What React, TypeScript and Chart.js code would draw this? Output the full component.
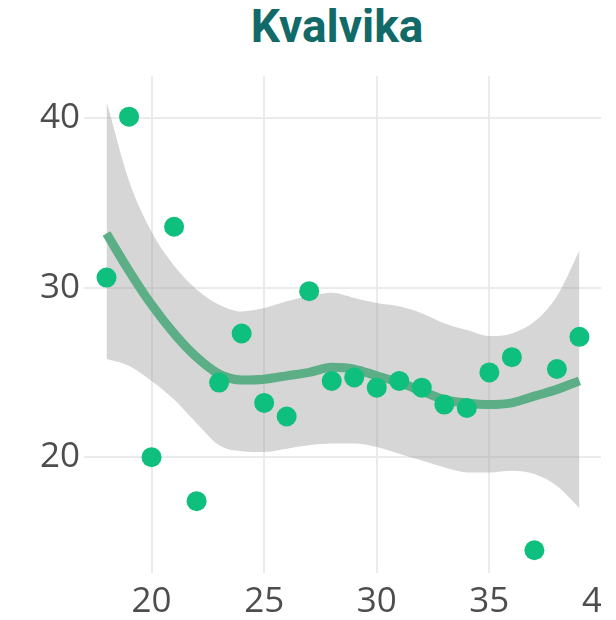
import { useEffect, useRef } from "react";
import { Chart, registerables } from "chart.js";

Chart.register(...registerables);

const TITLE = "Kvalvika";
const X_VALUES = [18, 19, 20, 21, 22, 23, 24, 25, 26, 27, 28, 29, 30, 31, 32, 33, 34, 35, 36, 37, 38, 39];
const POINT_Y = [30.6, 40.1, 20.0, 33.6, 17.4, 24.4, 27.3, 23.2, 22.4, 29.8, 24.5, 24.7, 24.1, 24.5, 24.1, 23.1, 22.9, 25.0, 25.9, 14.5, 25.2, 27.1];
const SMOOTH_Y = [33.2, 31.0, 29.0, 27.3, 25.9, 24.9, 24.55, 24.6, 24.8, 25.0, 25.3, 25.2, 24.8, 24.4, 23.9, 23.4, 23.2, 23.1, 23.2, 23.6, 24.0, 24.5];
const BAND_UPPER = [41.0, 36.3, 33.3, 31.3, 29.9, 29.0, 28.6, 28.8, 29.2, 29.5, 29.7, 29.4, 29.1, 28.9, 28.5, 27.9, 27.5, 27.15, 27.3, 28.0, 29.5, 32.2];
const BAND_LOWER = [25.8, 25.4, 24.5, 23.4, 22.0, 20.7, 20.35, 20.3, 20.5, 20.7, 20.8, 20.8, 20.6, 20.2, 19.8, 19.4, 19.1, 19.1, 19.2, 19.0, 18.3, 17.0];
const X_TICKS = [20, 25, 30, 35, 40];
const Y_TICKS = [20, 30, 40];

const toXY = (ys: number[]) => X_VALUES.map((x, i) => ({ x, y: ys[i] }));

export default function App() {
  const ref = useRef<HTMLCanvasElement>(null);

  useEffect(() => {
    const tickFont = { family: "'Open Sans'", size: 35 };
    const chart = new Chart(ref.current!, {
      type: "scatter",
      data: {
        datasets: [
          {
            type: "scatter",
            data: toXY(POINT_Y),
            backgroundColor: "#0fbf7d",
            borderWidth: 0,
            pointRadius: 10,
            order: 0,
          },
          {
            type: "line",
            data: toXY(SMOOTH_Y),
            borderColor: "#5bae86",
            borderWidth: 9,
            pointRadius: 0,
            cubicInterpolationMode: "monotone",
            fill: false,
            order: 1,
          },
          {
            type: "line",
            data: toXY(BAND_UPPER),
            borderWidth: 0,
            borderColor: "rgba(0,0,0,0)",
            pointRadius: 0,
            cubicInterpolationMode: "monotone",
            fill: "+1",
            backgroundColor: "rgba(153,153,153,0.4)",
            order: 2,
          },
          {
            type: "line",
            data: toXY(BAND_LOWER),
            borderWidth: 0,
            borderColor: "rgba(0,0,0,0)",
            pointRadius: 0,
            cubicInterpolationMode: "monotone",
            fill: false,
            order: 3,
          },
        ],
      } as any,
      options: {
        animation: false,
        responsive: false,
        layout: { padding: { top: 68, left: 0, right: 0, bottom: 0 } },
        plugins: {
          legend: { display: false },
          tooltip: { enabled: false },
        },
        scales: {
          x: {
            type: "linear",
            min: 17,
            max: 42,
            grid: { color: "#ebebeb", lineWidth: 2, drawTicks: false },
            border: { display: false },
            ticks: { font: tickFont, color: "#4d4d4d", padding: 8, maxRotation: 0 },
            afterBuildTicks: (s: any) => {
              s.ticks = X_TICKS.map((v) => ({ value: v }));
            },
            afterFit: (s: any) => {
              s.height = 47;
            },
          },
          y: {
            type: "linear",
            min: 13.16,
            max: 42.5,
            grid: { color: "#ebebeb", lineWidth: 2, drawTicks: false },
            border: { display: false },
            ticks: { font: tickFont, color: "#4d4d4d", padding: 4 },
            afterBuildTicks: (s: any) => {
              s.ticks = Y_TICKS.map((v) => ({ value: v }));
            },
            afterFit: (s: any) => {
              s.width = 76;
            },
          },
        },
      } as any,
    });
    return () => chart.destroy();
  }, []);

  return (
    <div style={{ position: "relative", width: 593, height: 612, overflow: "hidden" }}>
      <div
        style={{
          position: "absolute",
          top: -5,
          left: 0,
          width: 658,
          textAlign: "center",
          fontFamily: "Roboto",
          fontWeight: 700,
          fontSize: 46,
          lineHeight: "46px",
          color: "#116a68",
          whiteSpace: "nowrap",
        }}
      >
        {TITLE}
      </div>
      <canvas ref={ref} width={649} height={612} style={{ position: "absolute", left: 0, top: 0 }} />
    </div>
  );
}
